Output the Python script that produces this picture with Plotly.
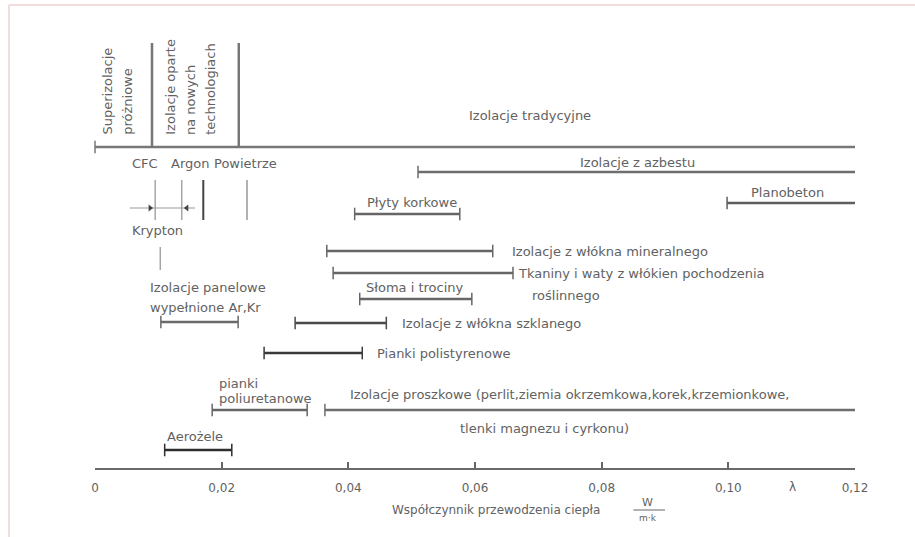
import plotly.graph_objects as go

# ---------------- data ----------------
tick_vals = [0, 0.02, 0.04, 0.06, 0.08, 0.10, 0.12]
tick_text = ["0", "0,02", "0,04", "0,06", "0,08", "0,10", "0,12"]

bar_names = ["Izolacje tradycyjne", "Izolacje z azbestu", "Planobeton", "Płyty korkowe",
             "Izolacje z włókna mineralnego", "Tkaniny i waty z włóknem pochodzenia roślinnego",
             "Słoma i trociny", "Izolacje panelowe wypełnione Ar,Kr", "Izolacje z włókna szklanego",
             "Pianki polistyrenowe", "Pianki poliuretanowe", "Izolacje proszkowe", "Aerożele"]
bar_start = [0.0, 0.051, 0.0998, 0.041, 0.0366, 0.0376, 0.0418, 0.0104, 0.0316, 0.0267, 0.0185, 0.0363, 0.011]
bar_end = [0.12, 0.12, 0.12, 0.0576, 0.0628, 0.066, 0.0595, 0.0226, 0.046, 0.0422, 0.0335, 0.12, 0.0216]

group_bounds = [0.009, 0.0227]            # Superizolacje | nowe technologie | tradycyjne
gas_vals = [0.0095, 0.0137, 0.0171, 0.024]  # CFC / Krypton / Argon / Powietrze
krypton_range = [0.0087, 0.0145]
panel_mark = 0.0103
x_max = 0.12

# ---------------- layout helpers (pixel rows) ----------------
PLOT_H = 468
bar_rows = [147, 172, 203, 214, 251, 273, 299, 322, 323, 353, 410, 410, 450]
bar_colors = ["#777", "#6e6e6e", "#5e5e5e", "#666", "#666", "#666", "#666", "#6a6a6a",
              "#4a4a4a", "#3a3a3a", "#666", "#6e6e6e", "#2e2e2e"]

fig = go.Figure()

for name, s, e, yr, c in zip(bar_names, bar_start, bar_end, bar_rows, bar_colors):
    fig.add_trace(go.Scatter(x=[s, e], y=[yr, yr], mode="lines", name=name,
                             line=dict(color=c, width=2.5), cliponaxis=False,
                             hoverinfo="name", showlegend=False))
    caps = [v for v in (s, e) if v < x_max]
    fig.add_trace(go.Scatter(x=caps, y=[yr] * len(caps), mode="markers",
                             marker=dict(symbol="line-ns", size=9,
                                         line=dict(color=c, width=1.5)),
                             cliponaxis=False, hoverinfo="skip", showlegend=False))

# group boundaries (top)
for v in group_bounds:
    fig.add_trace(go.Scatter(x=[v, v], y=[43, 147], mode="lines",
                             line=dict(color="#777", width=2.5), cliponaxis=False,
                             hoverinfo="skip", showlegend=False))

# gas conductivity marks
gas_colors = ["#999", "#999", "#444", "#888"]
gas_widths = [1.3, 1.3, 2, 1.3]
for v, c, w in zip(gas_vals, gas_colors, gas_widths):
    fig.add_trace(go.Scatter(x=[v, v], y=[180, 220], mode="lines",
                             line=dict(color=c, width=w), cliponaxis=False,
                             hoverinfo="skip", showlegend=False))

# Krypton dimension arrow
fig.add_trace(go.Scatter(x=[krypton_range[0] - 0.0032, krypton_range[1] + 0.0013], y=[208, 208],
                         mode="lines", line=dict(color="#999", width=1.2),
                         cliponaxis=False, hoverinfo="skip", showlegend=False))
fig.add_trace(go.Scatter(x=krypton_range, y=[208, 208], mode="markers",
                         marker=dict(symbol=["triangle-right", "triangle-left"], size=6, color="#444"),
                         cliponaxis=False, hoverinfo="skip", showlegend=False))
fig.add_trace(go.Scatter(x=[panel_mark, panel_mark], y=[247, 270], mode="lines",
                         line=dict(color="#999", width=1.3), cliponaxis=False,
                         hoverinfo="skip", showlegend=False))

# ---------------- labels ----------------
FONT = "DejaVu Sans"
TC = "#626262"
FS = 13
labels = [
    # text, x, y, xanchor, yanchor, angle
    ("Superizolacje", 0.0019, 137, "center", "bottom", -90),
    ("próżniowe", 0.0051, 137, "center", "bottom", -90),
    ("Izolacje oparte", 0.0118, 137, "center", "bottom", -90),
    ("na nowych", 0.0150, 137, "center", "bottom", -90),
    ("technologiach", 0.0182, 137, "center", "bottom", -90),
    ("Izolacje tradycyjne", 0.0687, 115, "center", "middle", 0),
    ("CFC", 0.0079, 163, "center", "middle", 0),
    ("Argon", 0.0150, 163, "center", "middle", 0),
    ("Powietrze", 0.0238, 163, "center", "middle", 0),
    ("Krypton", 0.0098, 230, "center", "middle", 0),
    ("Izolacje panelowe", 0.0084, 287, "left", "middle", 0),
    ("wypełnione Ar,Kr", 0.0084, 307, "left", "middle", 0),
    ("Izolacje z azbestu", 0.0857, 162, "center", "middle", 0),
    ("Płyty korkowe", 0.0500, 202, "center", "middle", 0),
    ("Planobeton", 0.1093, 192, "center", "middle", 0),
    ("Izolacje z włókna mineralnego", 0.0655, 251, "left", "middle", 0),
    ("Tkaniny i waty z włókien pochodzenia", 0.0665, 273, "left", "middle", 0),
    ("roślinnego", 0.0687, 295, "left", "middle", 0),
    ("Słoma i trociny", 0.0505, 287, "center", "middle", 0),
    ("Izolacje z włókna szklanego", 0.0482, 323, "left", "middle", 0),
    ("Pianki polistyrenowe", 0.0442, 353, "left", "middle", 0),
    ("pianki", 0.0193, 383, "left", "middle", 0),
    ("poliuretanowe", 0.0193, 398, "left", "middle", 0),
    ("Izolacje proszkowe (perlit,ziemia okrzemkowa,korek,krzemionkowe,", 0.0400, 394, "left", "middle", 0),
    ("tlenki magnezu i cyrkonu)", 0.0573, 428, "left", "middle", 0),
    ("Aerożele", 0.0158, 436, "center", "middle", 0),
]
for t, x, y, xa, ya, ang in labels:
    fig.add_annotation(text=t, x=x, y=y, xref="x", yref="y", showarrow=False,
                       xanchor=xa, yanchor=ya, textangle=ang,
                       font=dict(family=FONT, size=FS, color=TC))

# labels below the axis (placed in paper coordinates)
below = [
    ("λ", 0.1102, 487, "center", 12),
    ("Współczynnik przewodzenia ciepła", 0.0466, 510, "left", 12),
    ("W", 0.0873, 502, "center", 11),
    ("m·k", 0.0873, 518, "center", 9),
]
for t, x, y, xa, fs in below:
    fig.add_annotation(text=t, x=x, y=(PLOT_H - y) / PLOT_H, xref="x", yref="paper",
                       showarrow=False, xanchor=xa, yanchor="middle",
                       font=dict(family=FONT, size=fs, color=TC))

# fraction bar of the unit
fig.add_shape(type="line", x0=0.0850, x1=0.0900, y0=(PLOT_H - 510) / PLOT_H, y1=(PLOT_H - 510) / PLOT_H,
              xref="x", yref="paper", line=dict(color="#666", width=1))

# faint frame of the picture
fx = -86 / 760
fy = (PLOT_H - 5) / PLOT_H
fig.add_shape(type="line", xref="paper", yref="paper", x0=fx, x1=1.1, y0=fy, y1=fy,
              line=dict(color="#f2dcdc", width=2))
fig.add_shape(type="line", xref="paper", yref="paper", x0=fx, x1=fx, y0=fy, y1=-0.2,
              line=dict(color="#f2dcdc", width=2))

fig.update_layout(
    width=915, height=537,
    margin=dict(l=95, r=60, t=0, b=69, pad=0),
    paper_bgcolor="white", plot_bgcolor="white",
    showlegend=False,
    xaxis=dict(range=[0, x_max], tickvals=tick_vals, ticktext=tick_text,
               ticks="inside", ticklen=6, tickwidth=1.5, tickcolor="#666",
               showline=True, linewidth=2, linecolor="#6a6a6a",
               showgrid=False, zeroline=False, ticklabelstandoff=8,
               tickfont=dict(family=FONT, size=12, color=TC)),
    yaxis=dict(range=[PLOT_H, 0], visible=False, showgrid=False, zeroline=False),
)

fig.write_html("out.html", config={"displayModeBar": False},
               post_script="document.body.style.margin='0';")
